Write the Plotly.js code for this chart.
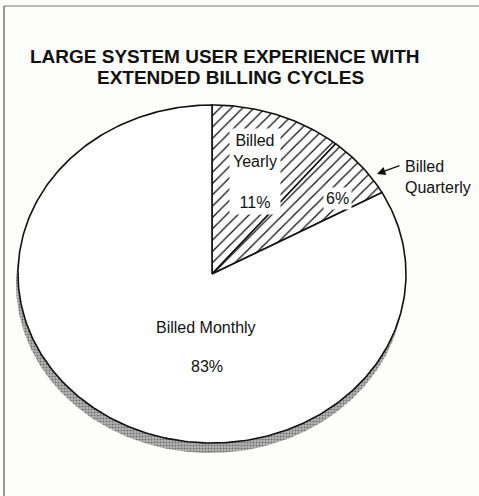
<!DOCTYPE html>
<html>
<head>
<meta charset="utf-8">
<script src="https://cdn.plot.ly/plotly-3.0.1.min.js"></script>
<style>html,body{margin:0;padding:0;background:#fdfdfb;}#chart{width:479px;height:496px;}</style>
</head>
<body>
<div id="chart"></div>
<script>
// ---- data ----
const categories = ['Billed Yearly', 'Billed Quarterly', 'Billed Monthly'];
const shares = [11, 6, 83];
const shareLabels = ['11%', '6%', '83%'];
const titleLines = ['LARGE SYSTEM USER EXPERIENCE WITH', 'EXTENDED BILLING CYCLES'];

// ---- geometry helpers (unit circle, clockwise from top) ----
function arcPoints(f0, f1, dx, dy) {
  const xs = [0 + dx], ys = [0 + dy];
  const n = Math.max(2, Math.ceil((f1 - f0) * 360));
  for (let i = 0; i <= n; i++) {
    const t = 2 * Math.PI * (f0 + (f1 - f0) * i / n);
    xs.push(Math.sin(t) + dx); ys.push(Math.cos(t) + dy);
  }
  xs.push(0 + dx); ys.push(0 + dy);
  return {xs, ys};
}

const total = shares.reduce((a, b) => a + b, 0);
const traces = [];

// shadow (whole pie shifted down)
const sh = arcPoints(0, 1, -2 / 194, -10 / 169);
traces.push({
  x: sh.xs, y: sh.ys, type: 'scatter', mode: 'lines', fill: 'toself',
  line: {width: 0, color: 'rgba(0,0,0,0)'},
  fillcolor: '#9a9a9a',
  fillpattern: {shape: '.', fgcolor: '#6f6f6f', bgcolor: '#b8b8b8', size: 3, solidity: 0.4},
  hoverinfo: 'skip', showlegend: false
});

let cum = 0;
categories.forEach((c, i) => {
  const f0 = cum / total, f1 = (cum + shares[i]) / total;
  cum += shares[i];
  const p = arcPoints(f0, f1, 0, 0);
  const hatched = i < 2;
  const tr = {
    x: p.xs, y: p.ys, type: 'scatter', mode: 'lines', fill: 'toself',
    name: c, line: {color: '#111', width: 1.6},
    fillcolor: '#ffffff', hoverinfo: 'name', showlegend: false
  };
  if (hatched) tr.fillpattern = {shape: '/', fgcolor: '#111', bgcolor: '#ffffff', size: 8, solidity: 0.16};
  traces.push(tr);
});

// pixel -> data helpers for label placement
const CX = 212, CY = 274, RX = 194, RY = 169;
const dx = px => (px - CX) / RX;
const dy = py => (CY - py) / RY;
const lblFont = {family: 'Liberation Sans, Arial, sans-serif', size: 16, color: '#111'};
const ttlFont = {family: 'Liberation Sans, Arial, sans-serif', size: 19, color: '#111', weight: 'bold'};

const annotations = [
  {x: 225 / 479, y: 1 - 57 / 496, xref: 'paper', yref: 'paper', text: titleLines[0], showarrow: false,
   font: ttlFont, xanchor: 'center', yanchor: 'middle'},
  {x: 230 / 479, y: 1 - 77 / 496, xref: 'paper', yref: 'paper', text: titleLines[1], showarrow: false,
   font: ttlFont, xanchor: 'center', yanchor: 'middle'},
  {x: dx(255), y: dy(171), text: 'Billed<br>Yearly<br> <br>' + shareLabels[0], showarrow: false,
   font: lblFont, bgcolor: '#ffffff', borderpad: 3, align: 'center'},
  {x: dx(337), y: dy(198), text: shareLabels[1], showarrow: false, font: lblFont, bgcolor: '#ffffff', borderpad: 2},
  {x: dx(403), y: dy(177), text: 'Billed<br>Quarterly', showarrow: false, font: lblFont, xanchor: 'left', align: 'left'},
  {x: dx(377), y: dy(174), text: '', showarrow: true, ax: 24, ay: -9, arrowhead: 2, arrowsize: 1.3, arrowwidth: 1.3, arrowcolor: '#111', standoff: 0},
  {x: dx(206), y: dy(327), text: 'Billed Monthly', showarrow: false, font: lblFont},
  {x: dx(207), y: dy(366), text: shareLabels[2], showarrow: false, font: lblFont}
];

const W = 479, H = 496;
const layout = {
  width: W, height: H, margin: {l: 0, r: 0, t: 0, b: 0},
  paper_bgcolor: '#fdfdfb', plot_bgcolor: 'rgba(0,0,0,0)',
  xaxis: {range: [-CX / RX, (W - CX) / RX], visible: false, fixedrange: true},
  yaxis: {range: [(CY - H) / RY, CY / RY], visible: false, fixedrange: true},
  showlegend: false,
  annotations: annotations,
  shapes: [
    {type: 'line', xref: 'paper', yref: 'paper', x0: 4 / W, x1: 1, y0: 1 - 6 / H, y1: 1 - 6 / H, line: {color: '#777', width: 1.2}},
    {type: 'line', xref: 'paper', yref: 'paper', x0: 4 / W, x1: 4 / W, y0: 0, y1: 1 - 6 / H, line: {color: '#555', width: 1.2}}
  ]
};

Plotly.newPlot('chart', traces, layout, {displayModeBar: false, staticPlot: true});
</script>
</body>
</html>
